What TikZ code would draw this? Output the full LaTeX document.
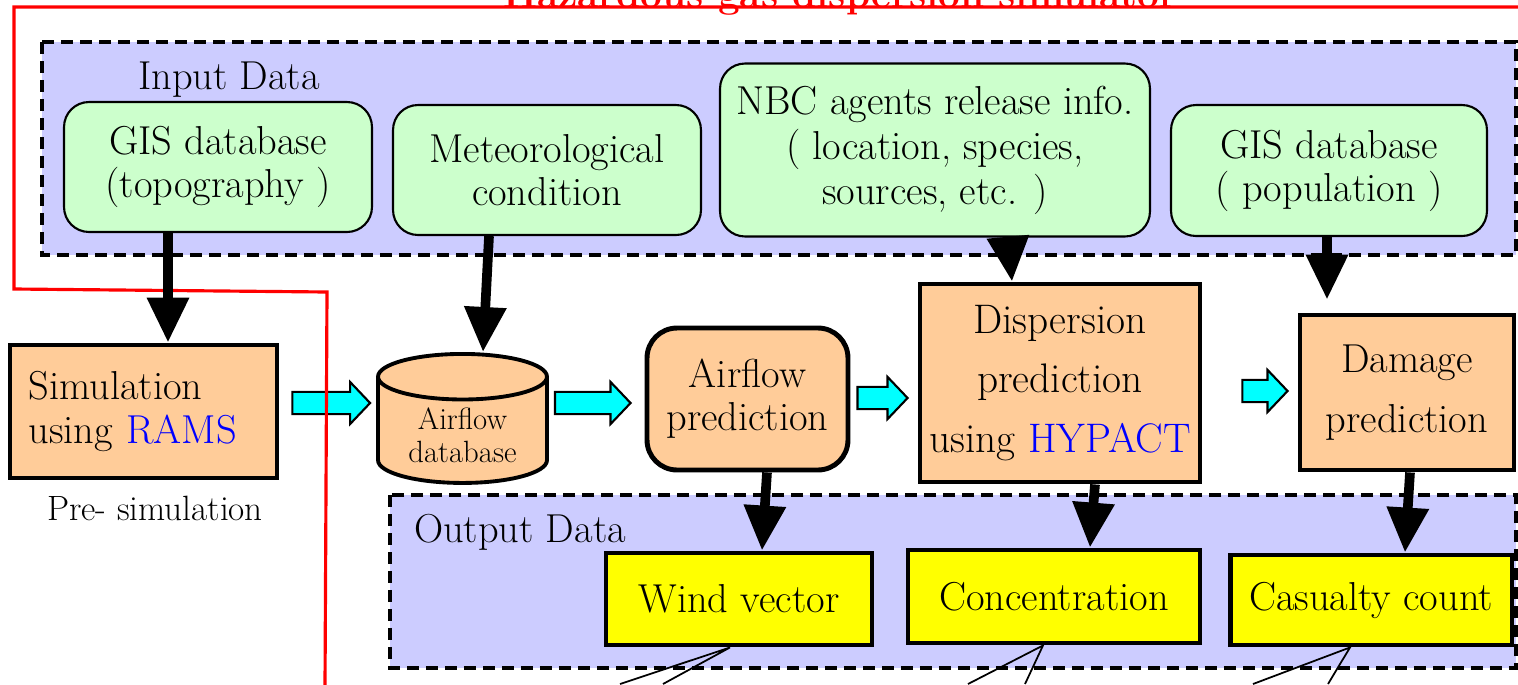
\documentclass[tikz,border=0pt]{standalone}
\usetikzlibrary{arrows.meta,calc,shapes.geometric}

\definecolor{regionblue}{RGB}{204,204,255}
\definecolor{inputgreen}{RGB}{204,255,204}
\definecolor{procorange}{RGB}{255,204,153}
\definecolor{outyellow}{RGB}{255,255,0}
\definecolor{flowcyan}{RGB}{0,255,255}
\definecolor{toolblue}{RGB}{0,0,255}
\definecolor{framered}{RGB}{255,0,0}

\tikzset{
  region/.style={draw,line width=1.9pt,dash pattern=on 0.24cm off 0.14cm,fill=regionblue},
  inbox/.style={draw,line width=1.2pt,rounded corners=0.5cm,fill=inputgreen,align=center},
  procbox/.style={draw,line width=2.8pt,fill=procorange,align=center},
  outbox/.style={draw,line width=2.8pt,fill=outyellow,minimum height=1.84cm},
  feed/.style={line width=5.5pt,-{Triangle[width=0.8cm,length=0.9cm]}},
  flow/.style={draw,line width=1.2pt,fill=flowcyan},
  callout/.style={line width=1pt},
  frame/.style={framered,line width=1.8pt},
}

% cyan block arrow from #1 to #2 (height taken from #1)
\newcommand{\flowarrow}[2]{%
  \draw[flow] let \p1=(#1), \p2=(#2) in
    (\x1,\y1+6.3pt) -- (\x2-11.4pt,\y1+6.3pt) -- (\x2-11.4pt,\y1+12pt)
    -- (\x2,\y1) -- (\x2-11.4pt,\y1-12pt) -- (\x2-11.4pt,\y1-6.3pt)
    -- (\x1,\y1-6.3pt) -- cycle;}

\begin{document}
\begin{tikzpicture}[x=0.02cm,y=-0.02cm,every node/.style={font=\fontsize{23}{24.5}\selectfont}]
\useasboundingbox (0,0) rectangle (1518,684);

% data regions
\draw[region] (42,42) rectangle (1516,255);
\draw[region] (390,495) rectangle (1516,668);
\node (inlabel) at (229,80) {Input Data};
\node (outlabel) at (520,532) {Output Data};

% input data
\node[inbox,minimum width=6.16cm,minimum height=2.6cm] (topo) at (218,167) {GIS database\\(topography )};
\node[inbox,minimum width=6.16cm,minimum height=2.6cm] (meteo) at (547,170) {Meteorological\\condition};
\node[inbox,minimum width=8.6cm,minimum height=3.46cm,font=\fontsize{23}{25.6}\selectfont] (nbc) at (935,150) {NBC agents release info.\\( location, species,\\sources, etc. )};
\node[inbox,minimum width=6.32cm,minimum height=2.62cm] (pop) at (1329,170.5) {GIS database\\( population )};

% processing
\node[procbox,minimum width=5.34cm,minimum height=2.66cm,align=left,text width=4.6cm,inner xsep=0.32cm] (sim) at (143.5,411.5) {Simulation\\using \textcolor{toolblue}{RAMS}};
\node[font=\fontsize{20}{22}\selectfont] (pre) at (155,508) {Pre- simulation};
\node[cylinder,shape border rotate=90,aspect=0.38,draw,line width=2.2pt,fill=procorange,anchor=north,
      minimum width=3.38cm,minimum height=2.4cm,align=center,font=\fontsize{17.5}{19}\selectfont] (db) at (462.5,352) {Airflow\\database};
\node[procbox,rounded corners=0.6cm,minimum width=4.02cm,minimum height=2.84cm] (air) at (747.5,399) {Airflow\\prediction};
\node[procbox,minimum width=5.6cm,minimum height=3.96cm,font=\fontsize{23.5}{34}\selectfont] (disp) at (1060,383) {Dispersion\\prediction\\using \textcolor{toolblue}{HYPACT}};
\node[procbox,minimum width=4.28cm,minimum height=3.1cm,font=\fontsize{23}{34}\selectfont] (dam) at (1407,392.5) {Damage\\prediction};

% output data
\node[outbox,minimum width=5.32cm] (wind) at (739,599) {Wind vector};
\node[outbox,minimum width=5.84cm,minimum height=1.86cm] (conc) at (1054,596.5) {Concentration};
\node[outbox,minimum width=5.64cm,minimum height=1.8cm,inner xsep=0.1cm] (cas) at (1371,600) {Casualty count};

% callouts below the outputs
\coordinate (windtailA) at (620,684);
\coordinate (windtailB) at (663,684);
\coordinate (conctailA) at (968,684);
\coordinate (conctailB) at (1025,684);
\coordinate (castailA) at (1253,684);
\coordinate (castailB) at (1328,684);
\draw[callout] (windtailA) -- ([xshift=-0.18cm]wind.south) -- (windtailB);
\draw[callout] (conctailA) -- ([xshift=-0.22cm]conc.south) -- (conctailB);
\draw[callout] (castailA) -- ([xshift=-0.42cm]cas.south) -- (castailB);

% data flow
\flowarrow{[xshift=0.26cm,yshift=0.17cm]sim.east}{[xshift=-0.12cm]db.west}
\flowarrow{[xshift=0.12cm,yshift=-0.08cm]db.east |- air.west}{[xshift=-0.28cm]air.west}
\flowarrow{[xshift=0.14cm,yshift=0.02cm]air.east}{[xshift=-0.2cm]disp.west}
\flowarrow{[xshift=0.8cm,yshift=-0.16cm]disp.east}{[xshift=-0.2cm]dam.west}

% simulator frame and title
\draw[frame] (1520,7) -- (14,7) -- (14,289) -- (327,292) -- (325,686);
\node[framered,font=\bfseries\fontsize{22}{24}\selectfont,anchor=base] (title) at (840,7) {Hazardous gas dispersion simulator};

% inputs and outputs
\draw[feed] ([xshift=-1cm]topo.south) -- ([xshift=0.49cm]sim.north);
\draw[feed] ([xshift=-1.16cm]meteo.south) -- ([xshift=0.41cm]db.north);
\draw[feed] ([xshift=1.46cm]nbc.south) -- ([xshift=-0.96cm]disp.north);
\draw[feed] ([xshift=-0.04cm]pop.south) -- ([xshift=-1.6cm,yshift=0.26cm]dam.north);
\draw[feed] ([xshift=0.39cm]air.south) -- ([xshift=0.46cm]wind.north);
\draw[feed] ([xshift=0.7cm]disp.south) -- ([xshift=0.72cm]conc.north);
\draw[feed] ([xshift=0.06cm]dam.south) -- ([xshift=0.68cm]cas.north);
\end{tikzpicture}
\end{document}
